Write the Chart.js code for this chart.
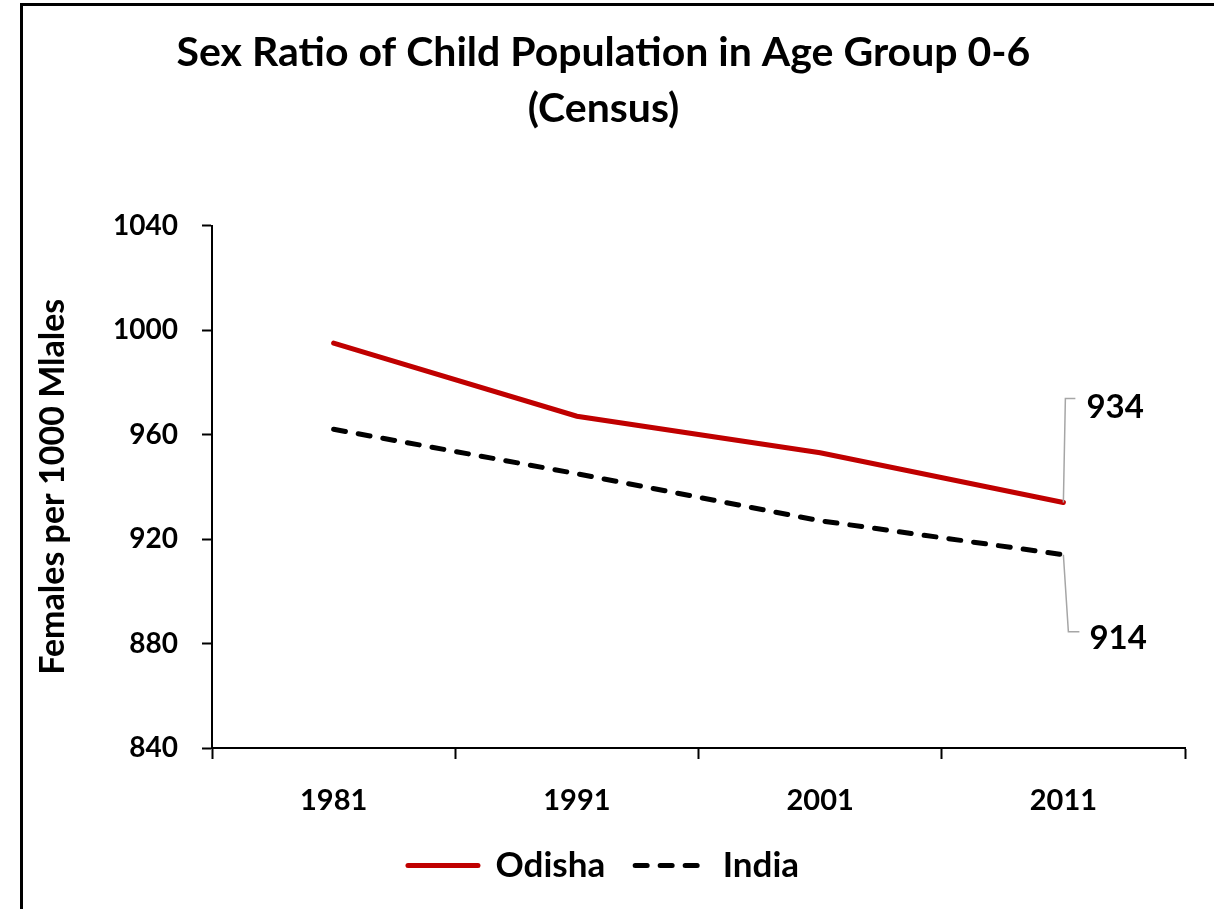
<!DOCTYPE html>
<html>
<head>
<meta charset="utf-8">
<script src="https://cdn.jsdelivr.net/npm/chart.js@4.4.0/dist/chart.umd.min.js"></script>
<style>
  html, body { margin: 0; padding: 0; background: #fff; overflow: hidden; }
  #frame {
    position: absolute; left: 20px; top: 3px;
    width: 1230px; height: 940px;
    border-left: 3px solid #000; border-top: 3px solid #000;
  }
  #wrap { position: absolute; left: 22px; top: 5px; width: 1192px; height: 904px; }
</style>
</head>
<body>
<div id="frame"></div>
<div id="wrap"><canvas id="myChart"></canvas></div>
<script>
const years = ['1981', '1991', '2001', '2011'];
const odisha = [995, 967, 953, 934];
const india = [962, 945, 927, 914];
const yTicks = [840, 880, 920, 960, 1000, 1040];

const FONT = 'Lato, "Open Sans", sans-serif';

// leader lines + value labels on the last point of each series
const endLabels = {
  id: 'endLabels',
  afterDatasetsDraw(chart) {
    const ctx = chart.ctx;
    const specs = [
      { ds: 0, dx1: 2, dy1: -104, dx2: 12, tx: 23, ty: -95 },
      { ds: 1, dx1: 5, dy1: 77, dx2: 16, tx: 26, ty: 84 }
    ];
    ctx.save();
    specs.forEach(s => {
      const meta = chart.getDatasetMeta(s.ds);
      const pt = meta.data[meta.data.length - 1];
      const vals = chart.data.datasets[s.ds].data;
      ctx.strokeStyle = '#a6a6a6';
      ctx.lineWidth = 1.5;
      ctx.beginPath();
      ctx.moveTo(pt.x, pt.y);
      ctx.lineTo(pt.x + s.dx1, pt.y + s.dy1);
      ctx.lineTo(pt.x + s.dx2, pt.y + s.dy1);
      ctx.stroke();
      ctx.fillStyle = '#000';
      ctx.font = 'bold 33px ' + FONT;
      ctx.textAlign = 'left';
      ctx.textBaseline = 'middle';
      ctx.fillText(String(vals[vals.length - 1]), pt.x + s.tx, pt.y + s.ty);
    });
    ctx.restore();
  }
};

const data = {
  labels: years,
  datasets: [{
    label: 'Odisha',
    data: odisha,
    borderColor: '#c00000',
    backgroundColor: '#c00000',
    borderWidth: 5,
    borderCapStyle: 'round',
    pointRadius: 0,
    tension: 0
  }, {
    label: 'India',
    data: india,
    borderColor: '#000',
    backgroundColor: '#000',
    borderWidth: 5,
    borderDash: [12, 13],
    borderCapStyle: 'round',
    pointRadius: 0,
    tension: 0
  }]
};

const config = {
  type: 'line',
  data: data,
  options: {
    responsive: true,
    maintainAspectRatio: false,
    animation: false,
    layout: { padding: { left: 0, right: 29, top: 0, bottom: 16 } },
    plugins: {
      title: {
        display: true,
        text: ['Sex Ratio of Child Population in Age Group 0-6', '(Census)'],
        color: '#000',
        font: { family: FONT, size: 41, weight: 'bold', lineHeight: 1.36 },
        padding: { top: 20, bottom: 89 }
      },
      legend: {
        position: 'bottom',
        labels: {
          color: '#000',
          font: { family: FONT, size: 35, weight: 'bold' },
          usePointStyle: true,
          pointStyle: 'line',
          pointStyleWidth: 70,
          padding: 30,
          generateLabels(chart) {
            const items = Chart.defaults.plugins.legend.labels.generateLabels(chart);
            items.forEach(it => {
              const ds = chart.data.datasets[it.datasetIndex];
              it.lineDash = ds.borderDash || [];
              it.lineWidth = ds.borderWidth;
              it.strokeStyle = ds.borderColor;
              it.lineCap = 'round';
            });
            return items;
          }
        }
      },
      tooltip: { enabled: false }
    },
    scales: {
      x: {
        offset: true,
        grid: { offset: true, drawOnChartArea: false, drawTicks: true, tickLength: 11, tickColor: '#000', tickWidth: 2 },
        border: { display: true, color: '#000', width: 2 },
        ticks: { color: '#000', font: { family: FONT, size: 29, weight: 'bold' }, padding: 24, maxRotation: 0 },
        afterFit(scale) { scale.height = 70; }
      },
      y: {
        min: yTicks[0],
        max: yTicks[yTicks.length - 1],
        afterBuildTicks(scale) { scale.ticks = yTicks.map(v => ({ value: v })); },
        grid: { drawOnChartArea: false, drawTicks: true, tickLength: 10, tickColor: '#000', tickWidth: 2 },
        border: { display: true, color: '#000', width: 2 },
        ticks: {
          color: '#000',
          font: { family: FONT, size: 28, weight: 'bold' },
          padding: 24,
          callback: v => String(v)
        },
        title: {
          display: true,
          text: 'Females per 1000 Mlales',
          color: '#000',
          font: { family: FONT, size: 34, weight: 'bold' },
          padding: { top: 11, bottom: 0 }
        },
        afterFit(scale) { scale.width = 190; }
      }
    }
  },
  plugins: [endLabels]
};

const myChart = new Chart(document.getElementById('myChart').getContext('2d'), config);
</script>
</body>
</html>
